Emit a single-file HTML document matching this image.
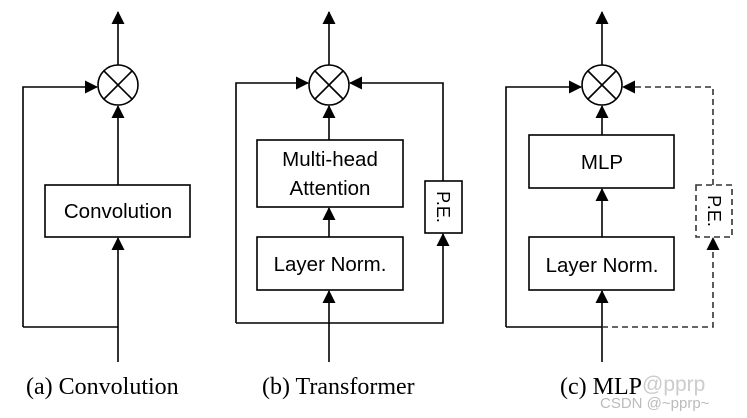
<!DOCTYPE html>
<html><head><style>body{margin:0;background:#fff}svg{display:block}</style></head><body>
<svg width="747" height="418" viewBox="0 0 747 418" xmlns="http://www.w3.org/2000/svg">
<defs><marker id="a" markerWidth="13" markerHeight="13" refX="12" refY="6.5" orient="auto" markerUnits="userSpaceOnUse"><path d="M0,0 L13,6.5 L0,13 Z" fill="#000"/></marker></defs>
<g stroke="#000" stroke-width="1.6" fill="none">
<!-- a -->
<circle cx="118" cy="85" r="20" fill="#fff"/>
<path d="M104 71 L132 99 M132 71 L104 99"/>
<path d="M118 65 V12" marker-end="url(#a)"/>
<path d="M23 327 V87 H97" marker-end="url(#a)"/>
<path d="M23 327 H118"/>
<path d="M118 362 V238" marker-end="url(#a)"/>
<rect x="45" y="185" width="145" height="52"/>
<path d="M118 185 V106" marker-end="url(#a)"/>
<!-- b -->
<circle cx="329" cy="85" r="20"/>
<path d="M315 71 L343 99 M343 71 L315 99"/>
<path d="M329 65 V12" marker-end="url(#a)"/>
<path d="M236 323 V83 H308" marker-end="url(#a)"/>
<path d="M236 323 H443 V234" marker-end="url(#a)"/>
<path d="M443 181 V83 H350" marker-end="url(#a)"/>
<rect x="425" y="181" width="37" height="52"/>
<rect x="257" y="140" width="146" height="67"/>
<rect x="257" y="237" width="146" height="53"/>
<path d="M329 362 V291" marker-end="url(#a)"/>
<path d="M329 237 V208" marker-end="url(#a)"/>
<path d="M329 140 V106" marker-end="url(#a)"/>
<!-- c -->
<circle cx="602" cy="85" r="20"/>
<path d="M588 71 L616 99 M616 71 L588 99"/>
<path d="M602 65 V12" marker-end="url(#a)"/>
<path d="M506 327 V87 H581" marker-end="url(#a)"/>
<path d="M506 327 H602"/>
<rect x="529" y="135" width="145" height="53"/>
<rect x="529" y="237" width="145" height="53"/>
<path d="M602 362 V291" marker-end="url(#a)"/>
<path d="M602 237 V189" marker-end="url(#a)"/>
<path d="M602 135 V106" marker-end="url(#a)"/>
<g stroke-dasharray="6,4" stroke="#333">
<path d="M602 327 H713 V238" marker-end="url(#a)"/>
<path d="M713 185 V87 H623" marker-end="url(#a)"/>
<rect x="696" y="185" width="36" height="52"/>
</g>
</g>
<g font-family="Liberation Sans, sans-serif" font-size="20.5" text-anchor="middle" fill="#000">
<text x="118" y="218">Convolution</text>
<text x="330" y="166">Multi-head</text>
<text x="330" y="195">Attention</text>
<text x="330" y="271">Layer Norm.</text>
<text x="602" y="169">MLP</text>
<text x="602" y="272">Layer Norm.</text>
<text transform="translate(437,207) rotate(90)" font-size="18">P.E.</text>
<text transform="translate(708,211) rotate(90)" font-size="18">P.E.</text>
</g>
<g font-family="Liberation Serif, serif" font-size="24" fill="#000">
<text x="26" y="394">(a) Convolution</text>
<text x="262" y="394">(b) Transformer</text>
<text x="560" y="394">(c) MLP</text>
</g>
<text x="642" y="391" font-family="Liberation Sans, sans-serif" font-size="21" fill="#ccc">@pprp</text>
<text x="600" y="408" font-family="Liberation Sans, sans-serif" font-size="15" fill="#bbb">CSDN @~pprp~</text>
</svg>
</body></html>
